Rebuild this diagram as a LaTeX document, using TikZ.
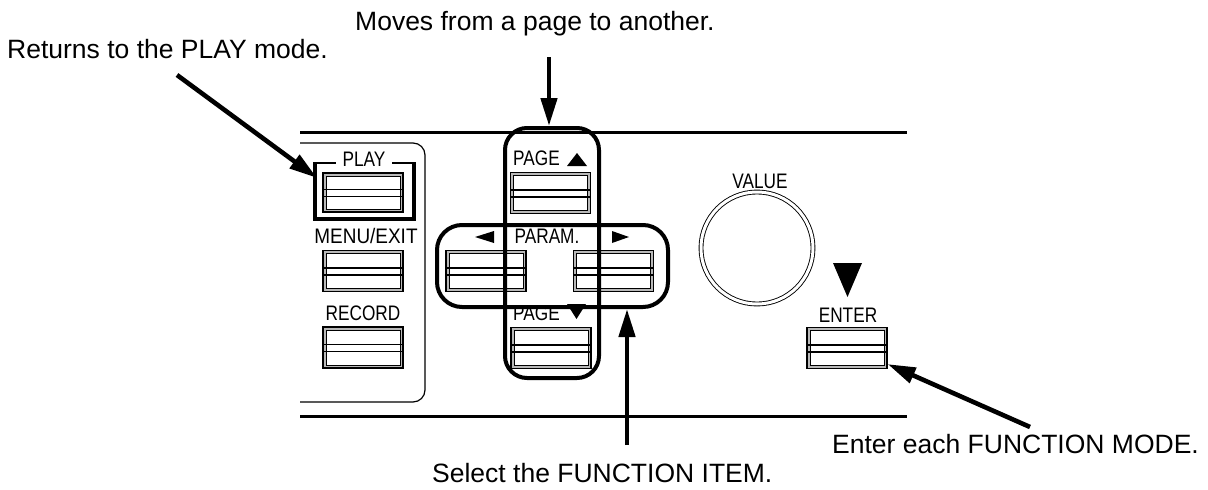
\documentclass[tikz,border=0pt]{standalone}
\usepackage{fontspec}
\setmainfont{Liberation Sans}
\usepackage{tikz}
\usetikzlibrary{positioning, arrows.meta}

\newcommand{\notefont}{\fontsize{26.5}{30}\selectfont}
\newcommand{\keyfont}{\fontsize{21}{23}\selectfont}

\begin{document}
\begin{tikzpicture}[x=1pt, y=-1pt,
    note/.style={font=\notefont, inner sep=0},
    lbl/.style={font=\keyfont, inner sep=0, xscale=0.82},
    btn/.style={draw, line width=1.2pt, fill=gray!55, minimum width=80pt, minimum height=41pt, inner sep=0,
        path picture={
            \filldraw[fill=white, line width=0.8pt] ([shift={(3pt,3pt)}]path picture bounding box.south west) rectangle ([shift={(-3pt,-3pt)}]path picture bounding box.north east);
            \draw[line width=1.1pt] ([yshift=3pt]path picture bounding box.west) -- ([yshift=3pt]path picture bounding box.east);
            \draw[line width=1.1pt] ([yshift=-4pt]path picture bounding box.west) -- ([yshift=-4pt]path picture bounding box.east);
        }},
    hlbox/.style={draw, line width=4pt, rounded corners=22pt, inner sep=0},
    rail/.style={line width=3pt},
    panel/.style={line width=1.2pt, rounded corners=12pt},
    arr/.style={line width=4.6pt, -{Triangle[length=28pt,width=16pt]}},
]
\useasboundingbox (0,0) rectangle (1208,490);

% Panel rails
\draw[rail] (300,132) -- (907,132);
\draw[rail] (300,416) -- (907,416);
\draw[panel] (300,143) -- (425,143) -- (425,402) -- (300,402);

% Left column keys
\node[lbl, anchor=base] (playlbl) at (364,166) {PLAY};
\draw[line width=4.5pt] (315,163) -- (315,219) -- (414,219) -- (414,163);
\draw[line width=2.5pt] (313,163) -- (336,163) (392,163) -- (416,163);
\node[btn, minimum height=39pt] (playbtn) at (363,192.5) {};
\node[lbl, anchor=base, xscale=1.1] (menulbl) at (366,243) {MENU/EXIT};
\node[btn] (menubtn) at (363,271) {};
\node[lbl, anchor=base] (reclbl) at (363,320) {RECORD};
\node[btn] (recbtn) at (363,347.5) {};

% Cursor keys
\node[lbl, anchor=base west] (pguplbl) at (513,165) {PAGE};
\fill (567,166) -- (587,166) -- (577,153) -- cycle;
\node[btn] (pgupbtn) at (550.5,193) {};
\node[lbl, anchor=base] (paramlbl) at (547,243) {PARAM.};
\fill (475,237) -- (494,231) -- (494,243) -- cycle;
\fill (629,237) -- (612,231) -- (612,243) -- cycle;
\node[btn] (leftbtn) at (486,271) {};
\node[btn] (rightbtn) at (613.5,271) {};
\node[lbl, anchor=base west] (pgdnlbl) at (513,320) {PAGE};
\fill (567,304) -- (586,304) -- (576.5,319) -- cycle;
\node[btn] (pgdnbtn) at (551,348) {};

% Highlight frames
\node[hlbox, minimum width=94pt, minimum height=250pt] (pagebox) at (552,253) {};
\node[hlbox, rounded corners=25pt, minimum width=231pt, minimum height=82pt] (parambox) at (552.5,266) {};

% Dial and ENTER
\node[lbl, anchor=base] (valuelbl) at (760,188) {VALUE};
\node[draw, circle, line width=0.9pt, double, double distance=3pt, minimum size=112pt, inner sep=0] (dial) at (757,248) {};
\fill (833,263) -- (862,263) -- (847.5,297) -- cycle;
\node[lbl, anchor=base] (enterlbl) at (848,322) {ENTER};
\node[btn] (enterbtn) at (847,348) {};

% Notes
\node[note, anchor=base west] (moves) at (355,30) {Moves from a page to another.};
\node[note, anchor=base west] (returns) at (7,58) {Returns to the PLAY mode.};
\node[note, anchor=base west] (select) at (432,482) {Select the FUNCTION ITEM.};
\node[note, anchor=base west] (enter) at (832,453) {Enter each FUNCTION MODE.};

% Pointers
\coordinate (movtail) at (549,57);
\coordinate (rettail) at (177,75);
\coordinate (playtip) at (317,178);
\coordinate (seltail) at (627,445);
\coordinate (enttail) at (1030,427);
\draw[arr] (movtail) -- (movtail |- pagebox.north);
\draw[arr] (rettail) -- (playtip);
\draw[arr] (seltail) -- (seltail |- parambox.south);
\draw[arr] (enttail) -- ([yshift=5pt]enterbtn.south east);

\end{tikzpicture}
\end{document}
